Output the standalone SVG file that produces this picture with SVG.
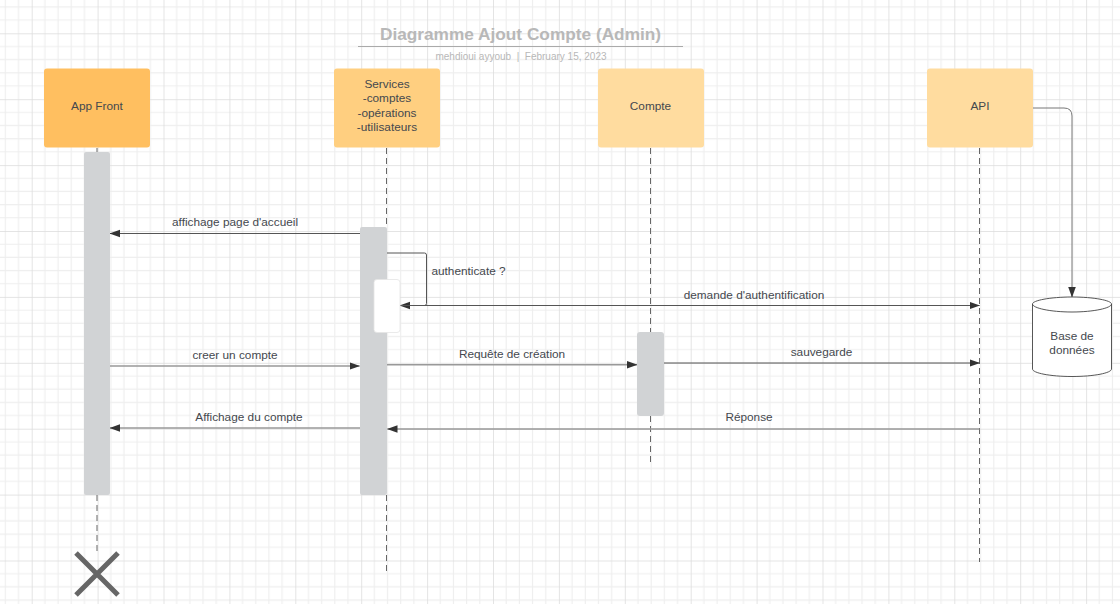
<svg xmlns="http://www.w3.org/2000/svg" width="1120" height="604" viewBox="0 0 1120 604">
<style>
text{font-family:"Liberation Sans",Arial,sans-serif;font-size:11.8px;fill:#44484e;text-anchor:middle}
.ll{fill:none;stroke:#666;stroke-width:1;stroke-dasharray:6 4}
.m{fill:none;stroke:#555;stroke-width:1}
.m2{fill:none;stroke:#999;stroke-width:1.4}
.bar{fill:#d1d3d5}
</style>
<defs>
<marker id="a" markerUnits="userSpaceOnUse" markerWidth="11" markerHeight="10" refX="10" refY="5" orient="auto"><path d="M0 1.200L10.500 5L0 8.800z" fill="#333"/></marker>
<pattern id="g" patternUnits="userSpaceOnUse" x="31.700" y="33.300" width="65.900" height="65.900">
<path d="M13.180 0V65.900M26.360 0V65.900M39.540 0V65.900M52.720 0V65.900M0 13.180H65.900M0 26.360H65.900M0 39.540H65.900M0 52.720H65.900" fill="none" stroke="#eeeeee" stroke-width="1.100"/>
<path d="M0 0V65.900M0 0H65.900" fill="none" stroke="#dcdcdc" stroke-width="1.500"/>
</pattern>
</defs>
<rect width="1120" height="604" fill="#fff"/>
<rect width="1120" height="604" fill="url(#g)"/>
<g id="title">
<text x="520.500" y="40" style="font-size:17.250px;font-weight:bold;fill:#b8b8b8">Diagramme Ajout Compte (Admin)</text>
<path d="M358 46.500H683" stroke="#aaa" stroke-width="1.200"/>
<text x="521" y="60" style="font-size:10px;fill:#b8b8b8;white-space:pre">mehdioui ayyoub  |  February 15, 2023</text>
</g>
<g id="lifelines">
<path class="ll" d="M97 148V153M97 495V552"/>
<path class="ll" d="M386.500 148V227M386.500 495V574"/>
<path class="ll" d="M650.500 148V332M650.500 416V464"/>
<path class="ll" d="M979.500 148V562"/>
</g>
<g id="connectors">
<path class="m" d="M360 233.500H110" marker-end="url(#a)"/>
<path class="m" d="M386 253H424.500Q426.500 253 426.500 255V303.500Q426.500 305.500 424.500 305.500H400" marker-end="url(#a)"/>
<path class="m" d="M400 305.500H979.500" marker-end="url(#a)"/>
<path class="m2" d="M110 366H359.500" marker-end="url(#a)"/>
<path class="m2" d="M387 364.800H637" marker-end="url(#a)"/>
<path class="m" d="M664 363H979.500" marker-end="url(#a)"/>
<path class="m2" d="M360 428H110" marker-end="url(#a)"/>
<path class="m2" d="M979.500 429H387.500" marker-end="url(#a)"/>
<path class="m" style="stroke:#777" d="M1032 108H1064Q1072 108 1072 116V297" marker-end="url(#a)"/>
</g>
<g id="labels">
<text x="235" y="225.500">affichage page d'accueil</text>
<text x="468.500" y="275">authenticate ?</text>
<text x="754" y="298.500">demande d'authentification</text>
<text x="235" y="358.500">creer un compte</text>
<text x="512" y="357.500">Requête de création</text>
<text x="821.500" y="355.500">sauvegarde</text>
<text x="249" y="420.500">Affichage du compte</text>
<text x="749" y="421">Réponse</text>
</g>
<g id="app-front"><rect x="44" y="68.500" width="106" height="79" rx="3" fill="#ffbf60"/><text x="97" y="110">App Front</text></g>
<g id="services"><rect x="334" y="68.500" width="106" height="79" rx="3" fill="#ffcf80"/><text x="387" y="88">Services</text><text x="387" y="102">-comptes</text><text x="387" y="116.500">-opérations</text><text x="387" y="130.500">-utilisateurs</text></g>
<g id="compte"><rect x="598" y="68.500" width="106" height="79" rx="3" fill="#ffdc9f"/><text x="650.500" y="110">Compte</text></g>
<g id="api"><rect x="927" y="68.500" width="106" height="79" rx="3" fill="#ffdc9f"/><text x="980" y="110">API</text></g>
<g id="bar-app"><rect class="bar" x="84" y="152" width="26" height="343" rx="2"/></g>
<g id="bar-services"><rect class="bar" x="360" y="227" width="27" height="268" rx="2"/></g>
<g id="bar-self"><rect x="374" y="279.500" width="26" height="53" rx="3" fill="#fff" stroke="#e4e4e4" stroke-width=".8"/></g>
<g id="bar-compte"><rect class="bar" x="637" y="332" width="27" height="84" rx="3"/></g>
<g id="database">
<path d="M1032.500 304V369C1032.500 373 1050 376.500 1072 376.500S1111.500 373 1111.500 369V304C1111.500 300.500 1094 297 1072 297S1032.500 300.500 1032.500 304C1032.500 308 1050 312 1072 312S1111.500 308 1111.500 304" fill="#fff" stroke="#444" stroke-width=".9"/>
<text x="1072" y="340">Base de</text><text x="1072" y="354">données</text>
</g>
<g id="destroy"><path d="M76 553L118 595M118 553L76 595" fill="none" stroke="#666" stroke-width="5"/></g>
</svg>
